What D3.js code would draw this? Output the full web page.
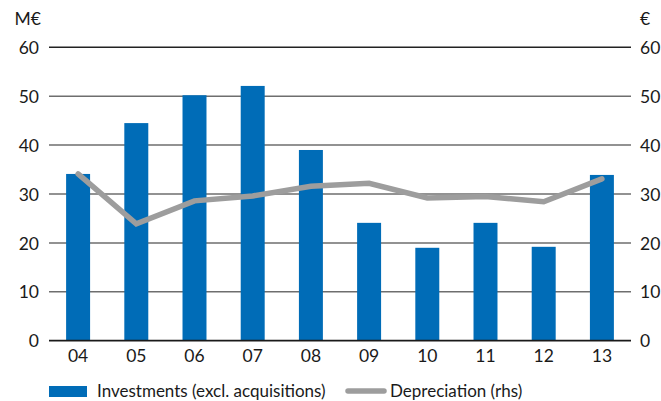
<!DOCTYPE html>
<html>
<head>
<meta charset="utf-8">
<script src="https://cdn.jsdelivr.net/npm/d3@7"></script>
<style>
  html, body { margin: 0; padding: 0; background: #fff; }
  svg text { font-family: Lato, "Open Sans", sans-serif; fill: #1a1a1a; }
</style>
</head>
<body>
<svg id="chart" width="661" height="401"></svg>
<script>
// Annual investments vs. depreciation
const years = ["04", "05", "06", "07", "08", "09", "10", "11", "12", "13"];
const investments = [34.1, 44.5, 50.2, 52.1, 39.0, 24.1, 19.0, 24.1, 19.2, 33.9];
const depreciation = [34.1, 23.9, 28.6, 29.6, 31.6, 32.2, 29.2, 29.5, 28.4, 33.1];
const leftTicks = [0, 10, 20, 30, 40, 50, 60];
const rightTicks = [0, 10, 20, 30, 40, 50, 60];

(function draw() {
  const svg = d3.select("#chart");
  const mLeft = 49, mRight = 631, mTop = 47.3, mBottom = 340.7;
  const fs = "17px";

  const x = d3.scaleBand().domain(years).range([mLeft, mRight])
    .paddingInner(0.588).paddingOuter(0.294);
  const yL = d3.scaleLinear().domain([0, 60]).range([mBottom, mTop]);
  const yR = d3.scaleLinear().domain([0, 60]).range([mBottom, mTop]);

  // gridlines
  svg.append("g").selectAll("line").data(leftTicks.filter(d => d > 0)).join("line")
    .attr("x1", mLeft).attr("x2", mRight)
    .attr("y1", d => yL(d)).attr("y2", d => yL(d))
    .attr("stroke", d => d === 60 ? "#222" : "#6e6e6e").attr("stroke-width", 1.5);

  // bars
  svg.append("g").selectAll("rect").data(investments).join("rect")
    .attr("x", (d, i) => x(years[i]))
    .attr("width", x.bandwidth())
    .attr("y", d => yL(d))
    .attr("height", d => yL(0) - yL(d))
    .attr("fill", "#006cb7");

  // baseline
  svg.append("line").attr("x1", mLeft).attr("x2", mRight)
    .attr("y1", yL(0)).attr("y2", yL(0))
    .attr("stroke", "#1a1a1a").attr("stroke-width", 1.8);

  // depreciation line
  const line = d3.line()
    .x((d, i) => x(years[i]) + x.bandwidth() / 2)
    .y(d => yR(d));
  svg.append("path").datum(depreciation)
    .attr("d", line).attr("fill", "none")
    .attr("stroke", "#9d9d9d").attr("stroke-width", 5.5)
    .attr("stroke-linecap", "round").attr("stroke-linejoin", "miter");

  // left axis
  const axL = svg.append("g").attr("transform", `translate(${mLeft},0)`)
    .call(d3.axisLeft(yL).tickValues(leftTicks).tickSize(0).tickPadding(10));
  axL.select(".domain").remove();
  axL.selectAll("text").style("font-size", "17.5px").attr("dy", "0.35em");

  // right axis
  const axR = svg.append("g").attr("transform", `translate(${mRight},0)`)
    .call(d3.axisRight(yR).tickValues(rightTicks).tickSize(0).tickPadding(9));
  axR.select(".domain").remove();
  axR.selectAll("text").style("font-size", "17.5px").attr("dy", "0.35em");

  // x axis
  const axX = svg.append("g").attr("transform", `translate(0,${mBottom})`)
    .call(d3.axisBottom(x).tickSize(0).tickPadding(8));
  axX.select(".domain").remove();
  axX.selectAll("text").style("font-size", "17.5px").attr("dy", "0.75em");

  // unit labels
  svg.append("text").attr("x", 41).attr("y", 25).attr("text-anchor", "end")
    .style("font-size", "17.5px").text("M€");
  svg.append("text").attr("x", 640).attr("y", 25)
    .style("font-size", "17.5px").text("€");

  // legend
  const lg = svg.append("g");
  lg.append("rect").attr("x", 49).attr("y", 386).attr("width", 38).attr("height", 11).attr("fill", "#006cb7");
  lg.append("text").attr("x", 97).attr("y", 397).style("font-size", fs)
    .text("Investments (excl. acquisitions)");
  lg.append("line").attr("x1", 348).attr("x2", 384).attr("y1", 391).attr("y2", 391)
    .attr("stroke", "#9d9d9d").attr("stroke-width", 5.5).attr("stroke-linecap", "round");
  lg.append("text").attr("x", 390).attr("y", 397).style("font-size", fs)
    .text("Depreciation (rhs)");
})();
</script>
</body>
</html>
